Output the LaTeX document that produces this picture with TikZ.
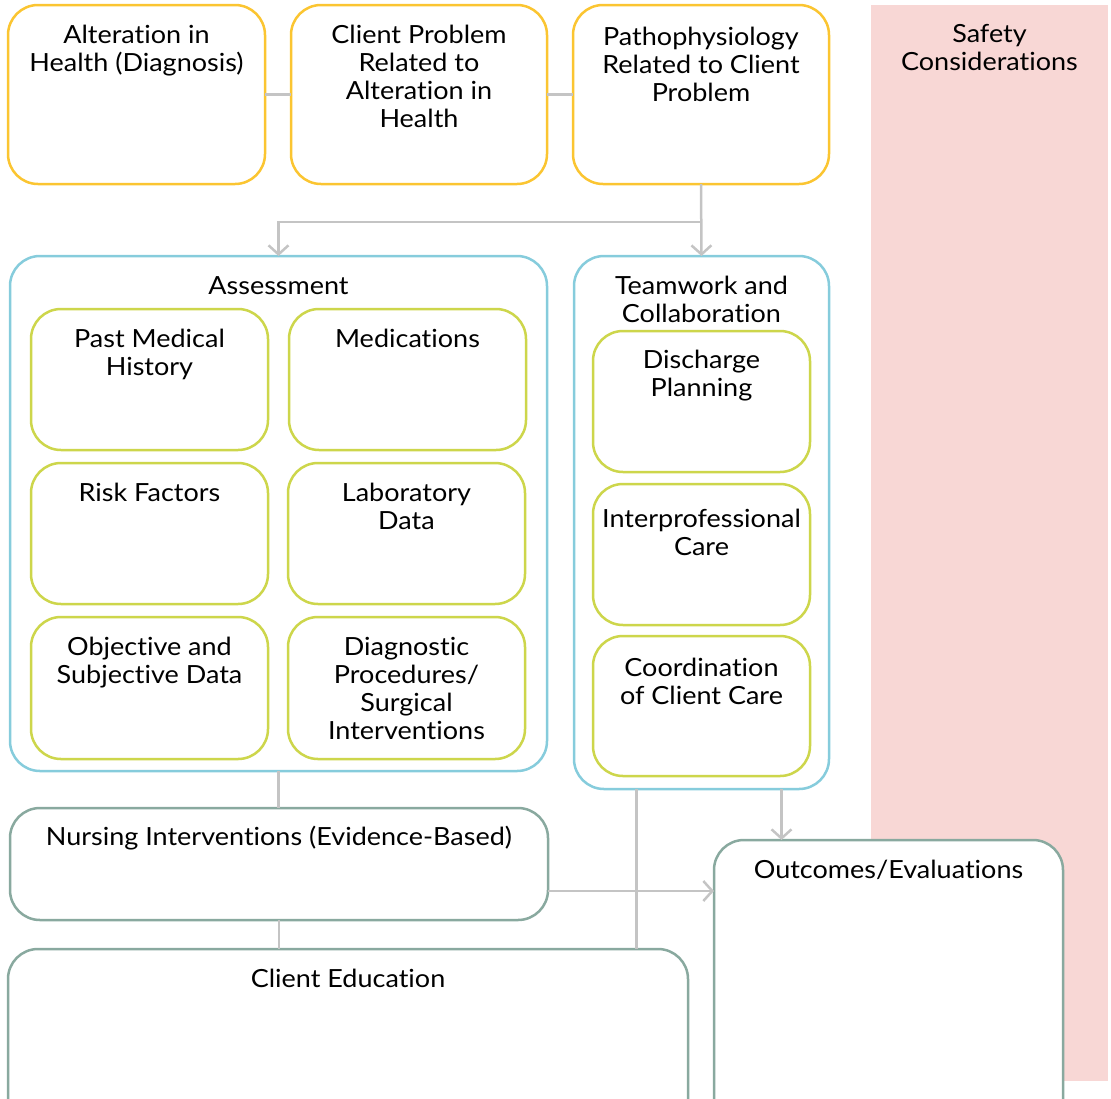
\documentclass[tikz,border=0pt]{standalone}
\usepackage{fontspec}
\setmainfont{Lato}[FakeStretch=1.08,Ligatures=NoCommon]
\usetikzlibrary{arrows.meta,calc}
\definecolor{cyel}{HTML}{FBC531}
\definecolor{cblue}{HTML}{86CCDC}
\definecolor{cgreen}{HTML}{CDD64B}
\definecolor{cteal}{HTML}{89A99F}
\definecolor{cpink}{HTML}{F8D7D5}
\definecolor{cline}{HTML}{C4C4C4}
\tikzset{
  rbox/.style={draw, rounded corners=30pt, line width=2.5pt, fill=white, inner sep=0pt, outer sep=0pt},
  ybox/.style={rbox, draw=cyel},
  bbox/.style={rbox, draw=cblue},
  gbox/.style={rbox, draw=cgreen},
  tbox/.style={rbox, draw=cteal},
  txt/.style={anchor=north, align=center, inner sep=0pt, font=\fontsize{25}{28}\selectfont},
  conn/.style={draw=cline, line width=2.5pt},
  arr/.style={conn, -{Straight Barb[length=9pt,width=20pt,line width=2.5pt]}},
}
\newcommand{\tstrut}{\rule{0pt}{20pt}}
\begin{document}
\begin{tikzpicture}[x=1pt,y=-1pt]
\useasboundingbox (0,0) rectangle (1111,1098);
\clip (0,0) rectangle (1111,1098);
% safety background
\fill[cpink] (871,5) rectangle (1108,1081);
\node[txt] (safetytxt) at (989.5,22) {\tstrut Safety\\Considerations};
% top row
\node[ybox, minimum width=257, minimum height=179] (alt) at (136.5,94.5) {};
\node[ybox, minimum width=256, minimum height=179] (prob) at (419,94.5) {};
\node[ybox, minimum width=256, minimum height=179] (path) at (701,94.5) {};
\node[txt] (alttxt) at ([yshift=-18]alt.north) {\tstrut Alteration in\\Health (Diagnosis)};
\node[txt] (probtxt) at ([yshift=-18]prob.north) {\tstrut Client Problem\\Related to\\Alteration in\\Health};
\node[txt] (pathtxt) at ([yshift=-20]path.north) {\tstrut Pathophysiology\\Related to Client\\Problem};
% assessment
\node[bbox, minimum width=537, minimum height=515] (assess) at (278.5,513.5) {};
\node[txt] (assesstxt) at ([yshift=-18]assess.north) {\tstrut Assessment};
\node[gbox, minimum width=237, minimum height=141] (pmh) at (149.5,379.5) {};
\node[gbox, minimum width=237, minimum height=141] (med) at (407.5,379.5) {};
\node[gbox, minimum width=237, minimum height=141] (risk) at (149.5,533.5) {};
\node[gbox, minimum width=237, minimum height=141] (lab) at (406.5,533.5) {};
\node[gbox, minimum width=237, minimum height=142] (obj) at (149.5,688) {};
\node[gbox, minimum width=237, minimum height=142] (diag) at (406.5,688) {};
\node[txt] (pmhtxt) at ([yshift=-18]pmh.north) {\tstrut Past Medical\\History};
\node[txt] (medtxt) at ([yshift=-18]med.north) {\tstrut Medications};
\node[txt] (risktxt) at ([yshift=-18]risk.north) {\tstrut Risk Factors};
\node[txt] (labtxt) at ([yshift=-18]lab.north) {\tstrut Laboratory\\Data};
\node[txt] (objtxt) at ([yshift=-18]obj.north) {\tstrut Objective and\\Subjective Data};
\node[txt] (diagtxt) at ([yshift=-18]diag.north) {\tstrut Diagnostic\\Procedures/\\Surgical\\Interventions};
% teamwork
\node[bbox, minimum width=255, minimum height=533] (team) at (701.5,522.5) {};
\node[txt] (teamtxt) at ([yshift=-18]team.north) {\tstrut Teamwork and\\Collaboration};
\node[gbox, minimum width=217, minimum height=141] (dis) at (701.5,401.5) {};
\node[gbox, minimum width=217, minimum height=141] (inter) at (701.5,554.5) {};
\node[gbox, minimum width=217, minimum height=140] (coord) at (701.5,706) {};
\node[txt] (distxt) at ([yshift=-17]dis.north) {\tstrut Discharge\\Planning};
\node[txt] (intertxt) at ([yshift=-23]inter.north) {\tstrut Interprofessional\\Care};
\node[txt] (coordtxt) at ([yshift=-20]coord.north) {\tstrut Coordination\\of Client Care};
% bottom
\node[tbox, minimum width=538, minimum height=112] (nurs) at (279,864) {};
\node[txt] (nurstxt) at ([yshift=-17]nurs.north) {\tstrut Nursing Interventions (Evidence-Based)};
\node[tbox, minimum width=680, minimum height=180] (edu) at (348,1039) {};
\node[txt] (edutxt) at ([yshift=-18]edu.north) {\tstrut Client Education};
\node[tbox, minimum width=349, minimum height=290] (out) at (888.5,985) {};
\node[txt] (outtxt) at ([yshift=-18]out.north) {\tstrut Outcomes/Evaluations};
% connectors
\draw[conn] (alt.east) -- (prob.west);
\draw[conn] (prob.east) -- (path.west);
\draw[conn] (path.south) -- ++(0,38) coordinate (split);
\draw[arr] (split) -| (assess.north);
\draw[arr] (path.south) -- (team.north);
\draw[conn] (assess.south) -- (assess.south |- nurs.north);
\draw[conn] (nurs.south) -- (nurs.south |- edu.north);
\draw[conn] ([xshift=-65]team.south) -- ([xshift=-65]team.south |- edu.north);
\draw[arr] ([yshift=-27]nurs.east) -- ([yshift=-27]nurs.east -| out.west);
\draw[arr] ([xshift=80]team.south) -- ([xshift=80]team.south |- out.north);
\end{tikzpicture}
\end{document}
